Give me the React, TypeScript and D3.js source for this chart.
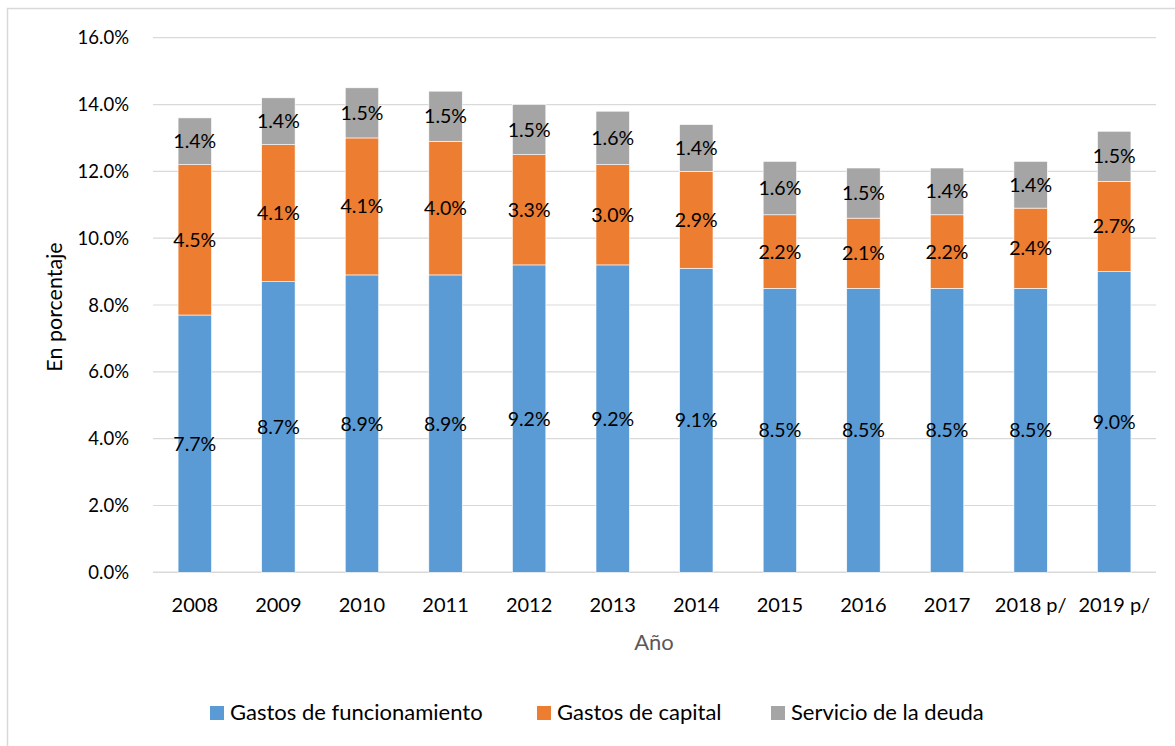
// App.tsx
import React from 'react';
import * as d3 from 'd3';

const years = ['2008', '2009', '2010', '2011', '2012', '2013', '2014', '2015', '2016', '2017', '2018 p/', '2019 p/'];
const funcionamiento = [7.7, 8.7, 8.9, 8.9, 9.2, 9.2, 9.1, 8.5, 8.5, 8.5, 8.5, 9.0];
const capital = [4.5, 4.1, 4.1, 4.0, 3.3, 3.0, 2.9, 2.2, 2.1, 2.2, 2.4, 2.7];
const deuda = [1.4, 1.4, 1.5, 1.5, 1.5, 1.6, 1.4, 1.6, 1.5, 1.4, 1.4, 1.5];
const seriesNames = ['Gastos de funcionamiento', 'Gastos de capital', 'Servicio de la deuda'];
const yTicks = [0, 2, 4, 6, 8, 10, 12, 14, 16];

const colors = ['#5B9BD5', '#ED7D31', '#A5A5A5'];
const font = 'Lato, "Open Sans", sans-serif';

const App = () => {
    const width = 1175;
    const height = 746;
    const plot = { left: 153, right: 1156, top: 37.7, bottom: 572.3 };

    const rows = years.map((y, i) => ({ year: y, f: funcionamiento[i], c: capital[i], d: deuda[i] }));
    const stack = d3.stack<any>().keys(['f', 'c', 'd'])(rows);

    const x = d3.scaleBand().domain(years).range([plot.left, plot.right]).padding(0);
    const barW = x.bandwidth() * 0.4;
    const y = d3.scaleLinear().domain([0, 16]).range([plot.bottom, plot.top]);

    // legend positions (square left x)
    const legendX = [210, 537, 771];

    return (
        <svg width={width} height={height} style={{ position: 'absolute', left: 0, top: 0, background: '#fff' }}>
            <rect x={7.5} y={8.5} width={1200} height={800} fill="#fff" stroke="#D9D9D9" strokeWidth={1.5} />

            {/* gridlines */}
            {yTicks.map((t) => (
                <line key={t} x1={plot.left} x2={plot.right} y1={y(t)} y2={y(t)} stroke="#D9D9D9" strokeWidth={t === 0 ? 1.5 : 1.2} />
            ))}

            {/* y tick labels */}
            {yTicks.map((t) => (
                <text key={t} x={129} y={y(t) + 6.5} textAnchor="end" fontFamily={font} fontSize={18.5} fill="#000">
                    {d3.format('.1f')(t)}%
                </text>
            ))}

            {/* bars */}
            {stack.map((s, si) => (
                <g key={si} fill={colors[si]}>
                    {s.map((d, i) => (
                        <rect
                            key={i}
                            x={(x(years[i]) as number) + (x.bandwidth() - barW) / 2}
                            y={y(d[1])}
                            width={barW}
                            height={y(d[0]) - y(d[1])}
                            stroke="#fff"
                            strokeWidth={0.6}
                        />
                    ))}
                </g>
            ))}

            {/* data labels */}
            {stack.map((s, si) => (
                <g key={'l' + si}>
                    {s.map((d, i) => (
                        <text
                            key={i}
                            x={(x(years[i]) as number) + x.bandwidth() / 2}
                            y={y((d[0] + d[1]) / 2) + 7}
                            textAnchor="middle"
                            fontFamily={font}
                            fontSize={19.5}
                            fill="#000"
                        >
                            {d3.format('.1f')(d[1] - d[0])}%
                        </text>
                    ))}
                </g>
            ))}

            {/* x tick labels */}
            {years.map((yr) => (
                <text key={yr} x={(x(yr) as number) + x.bandwidth() / 2} y={612} textAnchor="middle" fontFamily={font} fontSize={20} fill="#000">
                    {yr}
                </text>
            ))}

            {/* axis titles */}
            <text x={654} y={650} textAnchor="middle" fontFamily={font} fontSize={22} fill="#595959">
                Año
            </text>
            <text transform={`translate(62, 307) rotate(-90)`} textAnchor="middle" fontFamily={font} fontSize={21.5} fill="#000">
                En porcentaje
            </text>

            {/* legend */}
            {seriesNames.map((n, i) => (
                <g key={n}>
                    <rect x={legendX[i]} y={706} width={14} height={14} fill={colors[i]} />
                    <text x={legendX[i] + 20} y={720} fontFamily={font} fontSize={22} fill="#000">
                        {n}
                    </text>
                </g>
            ))}
        </svg>
    );
};

export default App;
